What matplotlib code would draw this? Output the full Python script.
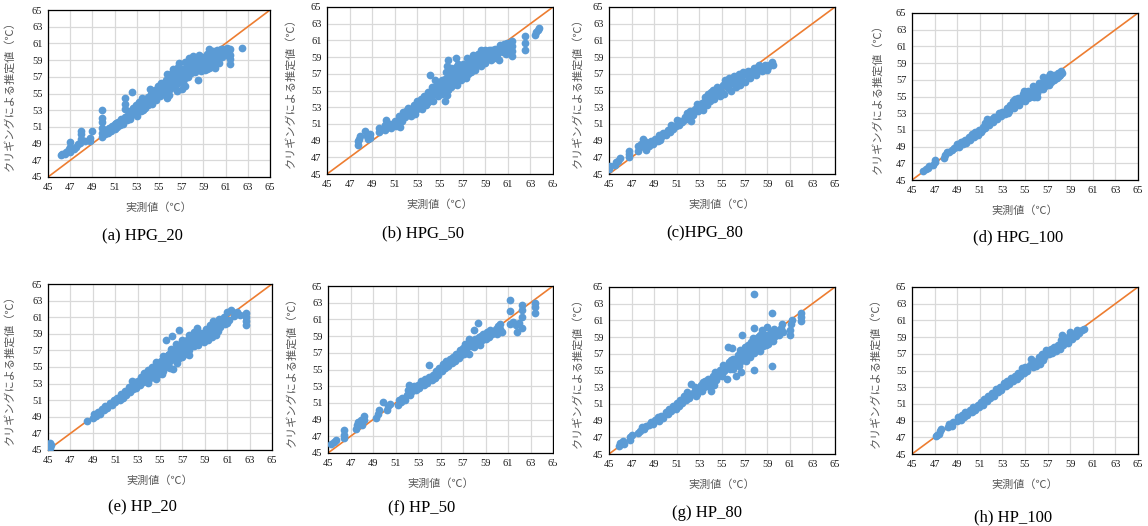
import matplotlib.pyplot as plt
from matplotlib.patches import Rectangle

# measured vs kriging-estimated temperature (degC), one list per case
HPG_20 = [
    (46.2, 47.6), (46.3, 47.8), (46.5, 47.7), (46.6, 48.0), (46.8, 48.1), (46.9, 48.4),
    (47.0, 48.0), (47.0, 48.6), (47.0, 49.2), (47.3, 48.3), (47.5, 48.6), (47.7, 48.9),
    (47.9, 49.1), (48.0, 49.6), (48.0, 50.1), (48.0, 50.5), (48.3, 49.3), (48.8, 49.3),
    (48.8, 49.7), (49.0, 50.5), (49.9, 49.8), (49.9, 50.3), (49.9, 50.9), (49.9, 51.6),
    (49.9, 52.1), (49.9, 53.0), (50.1, 50.1), (50.2, 50.6), (50.4, 50.3), (50.5, 50.9),
    (50.7, 50.5), (50.8, 51.1), (51.0, 50.7), (51.0, 51.3), (51.2, 51.0), (51.3, 51.6),
    (51.5, 51.2), (51.6, 51.9), (51.8, 51.4), (51.9, 52.2), (51.9, 53.2), (51.9, 53.8),
    (51.9, 54.5), (52.1, 51.8), (52.2, 52.4), (52.4, 52.0), (52.4, 52.9), (52.6, 55.2),
    (52.6, 52.5), (52.7, 53.3), (52.9, 52.6), (52.9, 53.6), (53.1, 53.0), (53.2, 54.0),
    (53.4, 52.9), (53.4, 53.6), (53.5, 54.5), (53.7, 53.3), (53.8, 54.1), (54.0, 53.6),
    (54.0, 54.6), (54.2, 55.5), (54.3, 54.0), (54.3, 55.0), (54.6, 54.5), (54.6, 55.4),
    (54.8, 54.9), (54.9, 55.9), (55.1, 54.7), (55.2, 55.4), (55.4, 54.9), (55.4, 56.0),
    (55.6, 55.3), (55.6, 56.6), (55.7, 54.5), (55.8, 55.8), (55.9, 57.0), (56.0, 55.5),
    (56.1, 56.4), (56.2, 57.4), (56.4, 55.9), (56.4, 56.8), (56.6, 57.6), (56.7, 56.3),
    (56.7, 58.2), (56.9, 57.2), (57.0, 56.5), (57.1, 55.5), (57.1, 57.9), (57.3, 56.9),
    (57.4, 57.5), (57.5, 58.4), (57.6, 57.0), (57.7, 57.8), (57.8, 58.9), (57.9, 57.4),
    (58.0, 58.2), (58.1, 59.5), (58.2, 57.6), (58.3, 58.6), (58.4, 59.3), (58.5, 56.6),
    (58.5, 58.0), (58.6, 59.6), (58.7, 58.9), (58.8, 57.7), (58.9, 59.4), (59.0, 58.3),
    (59.1, 59.0), (59.3, 57.9), (59.3, 59.7), (59.4, 58.6), (59.5, 60.3), (59.6, 59.2),
    (59.7, 58.2), (59.8, 59.8), (59.9, 58.9), (60.0, 58.1), (60.1, 59.5), (60.2, 60.2),
    (60.3, 59.0), (60.5, 59.8), (60.6, 60.3), (60.7, 59.4), (60.9, 60.0), (61.0, 59.6),
    (61.1, 60.4), (61.3, 60.1), (61.4, 58.5), (61.4, 59.1), (61.4, 59.6), (61.4, 60.3),
    (62.5, 60.4),
    (50.3, 50.6), (50.6, 50.7), (50.9, 50.9), (51.1, 51.5), (51.4, 51.4), (51.7, 51.7),
    (52.0, 52.2), (52.3, 52.3), (52.5, 52.7), (52.8, 53.0), (53.0, 53.4), (53.3, 53.3),
    (53.5, 53.9), (53.6, 53.0), (53.9, 54.4), (54.1, 54.0), (54.4, 54.6), (54.5, 55.1),
    (54.7, 54.2), (55.0, 55.3), (55.3, 55.7), (55.5, 55.0), (55.8, 56.3), (56.0, 56.9),
    (56.2, 55.8), (56.3, 56.2), (56.5, 57.1), (56.8, 56.8), (57.0, 57.6), (57.2, 56.4),
    (57.4, 58.1), (57.6, 57.3), (57.9, 58.4), (58.0, 57.8), (58.2, 59.0), (58.4, 58.3),
    (58.6, 58.5), (58.8, 59.2), (59.0, 59.3), (59.2, 58.5), (59.4, 59.0), (59.6, 59.9),
    (59.8, 58.6), (60.0, 59.1), (60.2, 59.6), (60.4, 60.0), (60.6, 59.6), (60.8, 60.3),
    (61.0, 60.1), (61.2, 59.8),
    (55.2, 56.2), (55.7, 57.3), (56.3, 57.9), (56.8, 58.6), (57.3, 58.8), (57.7, 59.2),
    (58.8, 58.0), (59.1, 57.8), (59.5, 58.0), (59.9, 60.1), (60.4, 58.6), (57.3, 55.9),
    (56.6, 55.3), (55.9, 54.8), (54.4, 53.7), (53.0, 52.3),
]

HPG_50 = [
    (47.7, 48.5), (47.7, 48.9), (47.8, 49.2), (47.9, 49.5), (48.4, 50.1), (48.5, 49.6),
    (48.6, 49.2), (48.8, 49.8), (48.8, 49.3), (49.6, 50.0), (49.6, 50.5), (50.1, 50.3),
    (50.1, 50.9), (50.2, 51.5), (50.4, 50.6), (50.7, 50.5), (50.9, 51.0), (51.1, 50.8),
    (51.2, 51.4), (51.4, 51.9), (51.5, 50.6), (51.6, 51.3), (51.7, 52.4), (51.9, 51.8),
    (52.1, 52.3), (52.2, 52.9), (52.4, 51.9), (52.5, 52.6), (52.7, 53.3), (52.8, 52.2),
    (53.0, 52.8), (53.0, 53.7), (53.2, 53.2), (53.4, 52.8), (53.5, 53.7), (53.6, 54.3),
    (53.8, 53.3), (53.9, 54.8), (54.0, 53.8), (54.1, 56.9), (54.2, 54.4), (54.3, 55.4),
    (54.4, 53.8), (54.5, 54.8), (54.6, 56.2), (54.8, 54.3), (54.9, 55.2), (55.0, 55.9),
    (55.2, 54.6), (55.3, 55.5), (55.4, 53.8), (55.4, 56.4), (55.5, 57.2), (55.6, 57.9),
    (55.7, 58.7), (55.7, 55.1), (55.8, 56.0), (55.9, 56.8), (56.0, 55.4), (56.1, 57.4),
    (56.2, 56.3), (56.4, 58.9), (56.4, 57.8), (56.5, 55.6), (56.6, 56.9), (56.8, 57.5),
    (56.9, 56.2), (57.0, 58.2), (57.2, 57.0), (57.3, 56.5), (57.4, 57.8), (57.6, 58.4),
    (57.7, 57.2), (57.9, 58.0), (58.0, 59.0), (58.1, 57.4), (58.3, 58.5), (58.4, 59.4),
    (58.6, 57.9), (58.7, 58.9), (58.9, 59.7), (59.0, 58.3), (59.2, 59.2), (59.3, 59.9),
    (59.5, 58.6), (59.6, 59.5), (59.8, 58.9), (59.9, 60.0), (60.0, 59.3), (60.2, 58.7),
    (60.3, 60.5), (60.4, 59.7), (60.6, 60.1), (60.8, 59.4), (60.9, 60.7), (61.0, 60.0),
    (61.4, 59.1), (61.4, 59.7), (61.4, 60.3), (61.4, 60.9), (62.5, 59.8), (62.5, 60.7),
    (62.5, 61.5), (63.4, 61.6), (63.5, 62.0), (63.7, 62.3), (63.8, 62.5),
    (50.6, 51.0), (51.0, 51.3), (51.3, 51.1), (51.5, 51.6), (51.8, 52.1), (52.0, 52.6),
    (52.3, 52.3), (52.6, 52.9), (52.9, 53.1), (53.1, 53.4), (53.3, 54.0), (53.7, 54.0),
    (53.9, 53.6), (54.1, 54.2), (54.3, 54.8), (54.6, 55.0), (54.7, 55.6), (54.9, 54.6),
    (55.1, 55.4), (55.2, 56.2), (55.5, 55.9), (55.6, 54.5), (55.8, 57.2), (56.0, 56.4),
    (56.2, 57.0), (56.3, 55.8), (56.5, 57.3), (56.7, 56.6), (56.9, 57.9), (57.1, 57.5),
    (57.3, 58.0), (57.5, 57.0), (57.8, 58.5), (58.0, 57.8), (58.2, 58.9), (58.5, 58.2),
    (58.8, 59.3), (59.1, 58.7), (59.4, 59.5), (59.7, 59.8), (60.0, 59.7), (60.3, 60.0),
    (60.6, 59.6), (60.9, 60.3), (60.7, 60.6),
    (55.4, 55.0), (55.7, 56.3), (56.0, 57.7), (56.3, 57.3), (56.6, 58.2), (57.0, 56.7),
    (57.4, 58.9), (57.9, 59.3), (58.2, 58.0), (58.6, 59.8), (59.0, 59.9), (59.5, 59.9),
]

HPG_80 = [
    (45.0, 45.6), (45.1, 45.9), (45.5, 46.1), (45.6, 46.4), (45.8, 46.6), (46.0, 46.9),
    (46.8, 47.0), (46.8, 47.4), (46.8, 47.7), (47.6, 47.8), (47.6, 48.3), (47.8, 48.6),
    (48.0, 49.2), (48.1, 48.2), (48.3, 47.9), (48.3, 48.8), (48.5, 48.4), (48.7, 49.0),
    (48.9, 48.6), (49.1, 49.2), (49.3, 48.9), (49.4, 49.7), (49.6, 49.4), (49.8, 49.9),
    (50.0, 49.7), (50.2, 50.3), (50.4, 50.0), (50.5, 50.9), (50.7, 50.4), (50.9, 50.8),
    (51.0, 51.5), (51.2, 50.9), (51.3, 51.4), (51.5, 51.2), (51.7, 51.8), (51.9, 52.3),
    (52.0, 51.6), (52.2, 52.6), (52.3, 51.3), (52.4, 52.1), (52.6, 52.8), (52.8, 53.4),
    (52.9, 52.5), (53.1, 53.1), (53.3, 52.7), (53.4, 53.6), (53.5, 54.2), (53.7, 53.3),
    (53.8, 54.6), (53.9, 53.8), (54.1, 54.3), (54.2, 55.1), (54.3, 54.0), (54.5, 54.7),
    (54.6, 55.4), (54.8, 54.3), (54.9, 55.0), (55.1, 55.7), (55.2, 54.6), (55.3, 56.2),
    (55.5, 55.3), (55.6, 56.5), (55.8, 55.0), (55.9, 55.9), (56.1, 56.7), (56.2, 55.4),
    (56.3, 56.2), (56.5, 57.0), (56.6, 55.6), (56.7, 56.5), (56.9, 57.2), (57.0, 56.0),
    (57.2, 56.8), (57.3, 57.3), (57.5, 56.5), (57.6, 57.1), (57.8, 57.7), (58.0, 56.9),
    (58.1, 57.5), (58.3, 58.0), (58.5, 57.3), (58.6, 57.8), (58.8, 58.1), (59.0, 57.5),
    (59.2, 58.0), (59.4, 58.4), (59.5, 58.0),
    (49.0, 48.8), (49.5, 49.1), (50.1, 50.0), (50.6, 50.6), (51.1, 51.1), (51.6, 51.5),
    (52.1, 51.9), (52.5, 52.5), (53.0, 52.8), (53.2, 53.5), (53.6, 53.8), (54.0, 54.0),
    (54.0, 54.8), (54.4, 54.5), (54.7, 55.0), (55.0, 54.6), (55.4, 55.8), (55.7, 55.8),
    (56.0, 56.2), (56.4, 55.8), (56.8, 56.9), (57.1, 57.1), (57.4, 56.9), (57.7, 57.3),
    (58.2, 57.8), (58.7, 57.6), (59.1, 57.8),
]

HPG_100 = [
    (46.0, 46.1), (46.2, 46.3), (46.4, 46.4), (46.5, 46.7), (46.9, 46.8), (47.0, 47.1),
    (47.0, 47.4), (47.8, 47.6), (47.9, 48.0), (48.1, 48.3), (48.3, 48.3), (48.5, 48.6),
    (48.7, 48.8), (48.9, 48.9), (49.0, 49.3), (49.2, 49.0), (49.3, 49.6), (49.5, 49.3),
    (49.7, 49.8), (49.8, 49.4), (50.0, 50.2), (50.1, 49.8), (50.3, 50.5), (50.5, 50.1),
    (50.6, 50.7), (50.8, 50.4), (50.9, 51.0), (51.1, 50.8), (51.3, 51.3), (51.5, 51.2),
    (51.5, 51.8), (51.6, 52.3), (51.8, 51.6), (52.0, 52.1), (52.2, 51.9), (52.3, 52.6),
    (52.5, 52.3), (52.7, 53.0), (52.9, 52.7), (53.0, 53.2), (53.2, 52.9), (53.4, 53.6),
    (53.6, 53.3), (53.7, 54.0), (53.9, 54.5), (54.0, 53.6), (54.2, 54.2), (54.4, 54.8),
    (54.5, 54.0), (54.7, 54.6), (54.8, 55.3), (55.0, 54.5), (55.1, 55.1), (55.3, 55.7),
    (55.4, 55.0), (55.6, 55.5), (55.8, 54.9), (56.0, 56.0), (56.1, 55.4), (56.2, 56.6),
    (56.4, 55.9), (56.5, 56.5), (56.6, 57.3), (56.8, 56.3), (56.9, 56.9), (57.1, 57.5),
    (57.3, 56.7), (57.4, 57.2), (57.6, 57.6), (57.8, 57.2), (57.9, 57.8), (58.1, 57.6),
    (58.2, 58.1), (58.3, 57.8),
    (49.4, 49.5), (50.2, 50.1), (50.7, 50.4), (51.2, 51.0), (52.1, 52.3), (52.6, 52.7),
    (53.3, 53.3), (53.8, 53.9), (54.3, 54.4), (54.6, 54.4), (55.2, 55.4), (55.7, 55.7),
    (56.3, 56.3), (56.7, 56.7), (57.2, 57.0), (57.7, 57.5),
    (54.9, 55.6), (55.3, 54.8), (55.7, 56.2), (56.1, 55.0), (56.6, 55.9), (57.1, 56.4),
    (57.2, 57.7), (57.6, 57.0), (58.0, 57.4), (53.5, 53.0), (54.1, 54.7),
]

HP_20 = [
    (45.2, 45.3), (45.3, 45.6), (45.2, 45.8), (48.5, 48.5), (49.0, 48.9), (49.1, 49.3),
    (49.3, 49.1), (49.5, 49.6), (49.6, 49.3), (49.8, 49.9), (50.0, 49.8), (50.1, 50.3),
    (50.3, 50.1), (50.5, 50.7), (50.7, 50.4), (50.9, 51.0), (51.0, 50.8), (51.2, 51.3),
    (51.4, 51.0), (51.5, 51.8), (51.7, 51.3), (51.9, 52.1), (52.0, 51.6), (52.2, 52.6),
    (52.3, 52.0), (52.5, 53.3), (52.6, 52.4), (52.7, 52.9), (52.9, 52.5), (53.0, 53.3),
    (53.2, 52.8), (53.3, 53.8), (53.5, 53.2), (53.6, 54.3), (53.8, 53.6), (53.9, 54.6),
    (54.0, 53.5), (54.2, 54.2), (54.3, 55.0), (54.5, 53.8), (54.6, 54.6), (54.7, 55.3),
    (54.9, 54.2), (55.0, 55.0), (55.1, 55.7), (55.3, 54.5), (55.4, 55.4), (55.5, 58.2),
    (55.6, 56.1), (55.7, 55.0), (55.8, 56.6), (55.9, 55.7), (56.1, 58.7), (56.2, 54.8),
    (56.1, 56.4), (56.2, 57.0), (56.4, 55.8), (56.5, 56.7), (56.6, 57.4), (56.7, 59.4),
    (56.8, 56.2), (56.9, 57.0), (57.0, 57.8), (57.2, 56.6), (57.3, 57.5), (57.4, 58.2),
    (57.6, 57.0), (57.7, 57.7), (57.8, 58.6), (58.0, 57.5), (58.1, 58.2), (58.3, 59.7),
    (58.3, 58.8), (58.4, 57.6), (58.6, 58.4), (58.7, 59.1), (58.9, 58.0), (59.0, 58.8),
    (59.1, 59.6), (59.3, 58.3), (59.4, 59.2), (59.5, 60.0), (59.6, 58.6), (59.7, 60.6),
    (59.8, 59.4), (60.0, 58.8), (60.1, 60.1), (60.2, 59.3), (60.3, 60.8), (60.4, 59.8),
    (60.5, 60.3), (60.7, 61.0), (61.0, 60.3), (61.0, 61.6), (61.2, 60.7), (61.3, 61.9),
    (61.6, 61.2), (61.9, 61.6), (62.1, 61.3), (62.7, 60.1), (62.7, 60.6), (62.7, 61.0),
    (62.7, 61.5),
    (52.8, 53.2), (53.1, 53.0), (53.4, 53.5), (53.7, 53.9), (54.1, 54.4), (54.4, 54.5),
    (54.8, 54.8), (55.2, 55.2), (55.5, 55.8), (55.7, 56.4), (56.0, 56.0), (56.3, 56.6),
    (56.6, 56.0), (56.7, 57.0), (57.1, 57.3), (57.3, 57.0), (57.5, 57.8), (57.9, 58.0),
    (58.2, 58.6), (58.5, 58.0), (58.8, 58.7), (59.2, 59.0), (59.5, 59.4), (59.7, 58.9),
    (59.9, 59.9), (60.1, 59.6), (60.3, 60.1), (60.6, 60.6), (60.8, 60.2),
    (53.9, 53.1), (54.6, 53.6), (55.2, 54.2), (55.9, 54.9), (56.5, 55.5), (57.0, 56.2),
    (57.6, 56.4), (54.6, 55.6), (55.3, 56.3), (56.0, 57.2), (56.4, 57.8), (57.0, 58.3),
    (57.6, 58.9), (58.0, 59.2),
]

HP_50 = [
    (45.3, 46.1), (45.5, 46.3), (45.7, 46.6), (46.4, 46.8), (46.4, 47.2), (46.4, 47.7),
    (47.5, 47.9), (47.6, 48.3), (47.7, 48.7), (47.9, 48.9), (48.0, 48.4), (48.2, 49.0),
    (48.2, 49.4), (49.3, 49.2), (49.4, 49.7), (49.5, 50.1), (49.9, 51.1), (50.2, 50.2),
    (50.3, 50.6), (50.5, 50.9), (51.2, 50.8), (51.3, 51.3), (51.5, 51.1), (51.6, 51.6),
    (51.8, 51.3), (52.0, 52.0), (52.1, 52.5), (52.2, 53.2), (52.3, 51.9), (52.5, 52.4),
    (52.6, 53.0), (52.8, 52.6), (53.0, 53.2), (53.1, 52.8), (53.3, 53.6), (53.5, 53.1),
    (53.6, 53.9), (53.8, 53.4), (54.0, 55.5), (54.0, 54.1), (54.2, 53.7), (54.3, 54.4),
    (54.5, 54.0), (54.6, 54.8), (54.8, 54.4), (54.9, 55.2), (55.1, 54.8), (55.2, 55.6),
    (55.4, 55.2), (55.5, 56.0), (55.7, 55.4), (55.8, 56.2), (56.0, 55.8), (56.1, 56.5),
    (56.3, 56.0), (56.4, 56.9), (56.6, 56.4), (56.7, 57.3), (56.8, 56.7), (57.0, 57.6),
    (57.1, 56.9), (57.2, 58.1), (57.3, 57.3), (57.5, 58.6), (57.5, 56.9), (57.7, 57.8),
    (57.8, 58.4), (58.0, 59.7), (58.0, 57.7), (58.2, 58.3), (58.3, 60.6), (58.4, 58.9),
    (58.5, 57.9), (58.7, 58.5), (58.8, 59.2), (59.0, 58.6), (59.1, 59.5), (59.3, 58.9),
    (59.4, 59.7), (59.6, 59.2), (59.8, 59.6), (60.0, 59.3), (60.1, 60.2), (60.3, 59.8),
    (60.3, 60.5), (60.5, 59.5), (61.2, 60.5), (61.2, 62.0), (61.2, 63.3), (61.4, 60.7),
    (61.7, 60.3), (61.8, 59.5), (62.0, 60.6), (62.2, 60.0), (62.2, 61.3), (62.2, 62.1),
    (62.2, 62.7), (63.4, 61.8), (63.4, 62.5), (63.4, 63.0),
    (52.4, 52.7), (52.9, 52.9), (53.4, 53.4), (53.9, 53.8), (54.4, 54.2), (54.7, 54.6),
    (55.0, 55.0), (55.3, 55.4), (55.6, 55.7), (55.9, 56.0), (56.2, 56.3), (56.5, 56.7),
    (56.9, 57.0), (57.2, 57.4), (57.4, 57.8), (57.6, 58.0), (57.9, 58.1), (58.1, 58.6),
    (58.4, 58.4), (58.6, 59.0), (58.9, 58.9), (59.2, 59.2), (59.5, 59.4), (59.9, 59.9),
    (60.2, 59.7),
]

HP_80 = [
    (45.9, 46.0), (46.0, 46.3), (46.2, 46.6), (46.3, 46.2), (46.9, 46.7), (46.9, 47.0),
    (47.0, 47.3), (47.6, 47.5), (47.7, 47.8), (47.9, 48.2), (48.1, 48.0), (48.3, 48.3),
    (48.5, 48.5), (48.7, 48.8), (48.9, 48.6), (49.1, 49.1), (49.3, 49.4), (49.4, 49.0),
    (49.6, 49.6), (49.8, 49.3), (50.0, 50.0), (50.2, 49.8), (50.3, 50.4), (50.5, 50.2),
    (50.7, 50.7), (50.9, 50.4), (51.0, 51.1), (51.2, 50.8), (51.3, 51.5), (51.5, 51.1),
    (51.6, 51.9), (51.8, 51.5), (51.9, 52.4), (52.1, 51.7), (52.2, 52.1), (52.3, 53.4),
    (52.5, 52.4), (52.6, 53.0), (52.8, 52.2), (52.9, 52.7), (53.1, 53.3), (53.2, 52.6),
    (53.4, 53.0), (53.5, 53.7), (53.7, 53.2), (53.8, 54.0), (54.0, 52.6), (54.0, 53.6),
    (54.2, 54.3), (54.3, 53.3), (54.4, 54.8), (54.5, 53.9), (54.7, 54.5), (54.8, 55.1),
    (55.0, 54.4), (55.1, 55.6), (55.2, 54.9), (55.4, 54.0), (55.4, 55.4), (55.5, 57.8),
    (55.6, 56.0), (55.7, 55.2), (55.9, 57.7), (55.9, 55.7), (56.0, 56.4), (56.2, 54.4),
    (56.2, 55.6), (56.3, 56.2), (56.4, 56.9), (56.5, 55.5), (56.6, 57.4), (56.7, 54.8),
    (56.8, 56.5), (56.8, 59.2), (56.9, 57.1), (57.0, 57.8), (57.1, 56.1), (57.2, 56.9),
    (57.3, 58.1), (57.4, 57.4), (57.5, 56.6), (57.6, 58.4), (57.8, 64.2), (57.8, 60.1),
    (57.8, 55.1), (57.8, 57.1), (57.9, 57.9), (58.0, 58.7), (58.2, 57.6), (58.3, 58.3),
    (58.4, 59.3), (58.5, 59.8), (58.6, 57.9), (58.7, 58.6), (58.9, 59.2), (59.0, 60.2),
    (59.1, 58.2), (59.2, 58.8), (59.4, 61.9), (59.4, 55.5), (59.4, 59.4), (59.5, 58.5),
    (59.7, 59.1), (59.9, 59.7), (60.0, 59.3), (60.2, 60.1), (60.3, 60.6), (60.4, 59.6),
    (61.0, 59.2), (61.0, 59.9), (61.1, 60.6), (61.2, 61.0), (62.0, 60.9), (62.0, 61.4),
    (62.0, 61.9),
    (54.6, 54.2), (55.0, 55.0), (55.3, 55.2), (55.6, 55.5), (55.8, 56.2), (56.1, 56.0),
    (56.4, 56.4), (56.6, 56.0), (56.9, 56.7), (57.1, 57.4), (57.3, 56.9), (57.6, 57.2),
    (57.7, 57.7), (58.0, 58.2), (58.1, 57.4), (58.4, 58.0), (58.6, 58.9), (58.8, 58.4),
    (59.0, 58.9), (59.3, 58.9), (59.6, 59.4), (59.8, 59.2), (60.1, 59.8),
    (56.0, 55.2), (56.6, 56.8), (57.0, 56.4), (57.3, 57.8), (57.7, 58.9), (58.2, 59.0),
    (58.4, 57.3), (58.9, 58.0), (59.3, 59.6), (59.6, 60.0), (53.3, 53.6), (52.7, 52.0),
    (53.9, 53.1),
]

HP_100 = [
    (47.1, 47.1), (47.2, 47.3), (47.4, 47.4), (47.5, 47.7), (47.6, 48.0), (48.2, 48.2),
    (48.3, 48.6), (48.5, 48.4), (48.6, 48.8), (49.0, 48.9), (49.1, 49.4), (49.3, 49.1),
    (49.4, 49.7), (49.6, 49.4), (49.7, 50.0), (49.9, 49.7), (50.1, 50.3), (50.3, 50.0),
    (50.4, 50.6), (50.6, 50.3), (50.8, 50.9), (50.9, 50.6), (51.1, 51.2), (51.3, 50.9),
    (51.4, 51.6), (51.6, 51.3), (51.7, 52.0), (51.9, 51.7), (52.1, 52.3), (52.3, 52.0),
    (52.4, 52.8), (52.6, 52.4), (52.8, 53.0), (52.9, 52.7), (53.1, 53.5), (53.3, 53.1),
    (53.4, 53.8), (53.6, 53.4), (53.8, 54.1), (53.9, 53.7), (54.1, 54.4), (54.3, 54.0),
    (54.4, 54.7), (54.6, 54.3), (54.7, 55.3), (54.9, 54.7), (55.0, 55.4), (55.2, 55.0),
    (55.4, 55.7), (55.5, 56.4), (55.7, 55.4), (55.9, 56.0), (56.0, 55.5), (56.2, 56.6),
    (56.3, 55.8), (56.5, 57.0), (56.6, 56.3), (56.8, 56.8), (56.9, 57.4), (57.1, 57.0),
    (57.3, 57.6), (57.4, 57.1), (57.6, 57.8), (57.7, 57.3), (57.9, 58.1), (58.1, 57.6),
    (58.2, 58.6), (58.3, 59.2), (58.4, 58.0), (58.6, 58.7), (58.8, 58.3), (58.9, 59.1),
    (59.0, 59.6), (59.2, 58.8), (59.3, 59.4), (59.5, 59.1), (59.6, 59.8), (59.8, 59.5),
    (60.0, 59.9), (60.2, 60.0),
    (50.0, 50.0), (50.7, 50.6), (51.5, 51.5), (52.2, 52.1), (53.0, 53.0), (53.7, 53.7),
    (54.5, 54.5), (55.1, 55.2), (55.6, 55.9), (56.1, 56.1), (56.7, 56.6), (57.2, 57.3),
    (57.8, 57.8), (58.5, 58.4), (59.1, 59.3), (59.7, 59.6),
]

captions = ['(a) HPG_20', '(b) HPG_50', '(c)HPG_80', '(d) HPG_100',
            '(e) HP_20', '(f) HP_50', '(g) HP_80', '(h) HP_100']
datasets = [HPG_20, HPG_50, HPG_80, HPG_100, HP_20, HP_50, HP_80, HP_100]
ticks = list(range(45, 66, 2))

# panel boxes in pixels (left, top, right, bottom) and caption centres
boxes = [(48, 10, 270, 177), (327, 7, 553, 174), (609, 7, 835, 174), (912, 13, 1138, 180),
         (48, 284, 272, 450), (328, 286, 553, 453), (609, 287, 835, 454), (912, 287, 1138, 454)]
cap_pos = [(142, 236), (423, 233), (705, 233), (1018, 237),
           (142, 507), (422, 508), (707, 513), (1013, 517)]
ylab_x = [9, 290, 577, 877, 9, 291, 577, 875]

W, H = 1148, 526
fig = plt.figure(figsize=(W / 100, H / 100), dpi=100)

SERIF = 'Liberation Serif'
JP = ['Noto Sans CJK JP', 'DejaVu Sans']
BLUE = '#5B9BD5'
ORANGE = '#ED7D31'
LABEL_GRAY = '#595959'

for i, (pts, cap, box) in enumerate(zip(datasets, captions, boxes)):
    l, t, r, b = box
    ax = fig.add_axes([l / W, 1 - b / H, (r - l) / W, (b - t) / H])
    ax.set_zorder(1 if i % 4 == 2 else 0)

    xs = [p[0] for p in pts]
    ys = [p[1] for p in pts]
    ax.plot([45, 65], [45, 65], color=ORANGE, lw=1.2, zorder=2)
    ax.scatter(xs, ys, s=31, color=BLUE, linewidths=0, zorder=3)

    ax.set_xlim(45, 65)
    ax.set_ylim(45, 65)
    ax.set_xticks(ticks)
    ax.set_yticks(ticks)
    ax.grid(True, color='#d9d9d9', lw=0.9)
    ax.set_axisbelow(True)
    ax.tick_params(length=0, labelsize=7.5, labelcolor='#1a1a1a', pad=4)
    for lab in ax.get_xticklabels() + ax.get_yticklabels():
        lab.set_family(SERIF)
    for sp in ax.spines.values():
        sp.set_color('black')
        sp.set_linewidth(0.9)

    ax.text(0.5, -0.185, '実測値（℃）', transform=ax.transAxes, ha='center', va='center',
            fontsize=8, color=LABEL_GRAY, family=JP)
    fig.text(ylab_x[i] / W, 1 - (t + b) / 2 / H, 'クリギングによる推定値（℃）',
             rotation=90, ha='center', va='center', fontsize=8, color=LABEL_GRAY,
             family=JP, zorder=3)

    cx, cy = cap_pos[i]
    fig.text(cx / W, 1 - cy / H, cap, ha='center', va='center', fontsize=12,
             family=SERIF, color='black')

# the third chart in each row sits on top of the one to its left
for top, bottom in [(0, 182), (270, 460)]:
    fig.add_artist(Rectangle((554 / W, 1 - bottom / H), (604 - 554) / W, (bottom - top) / H,
                             transform=fig.transFigure, facecolor='white',
                             edgecolor='none', zorder=0.5))

fig.savefig('out.png', dpi=100)
